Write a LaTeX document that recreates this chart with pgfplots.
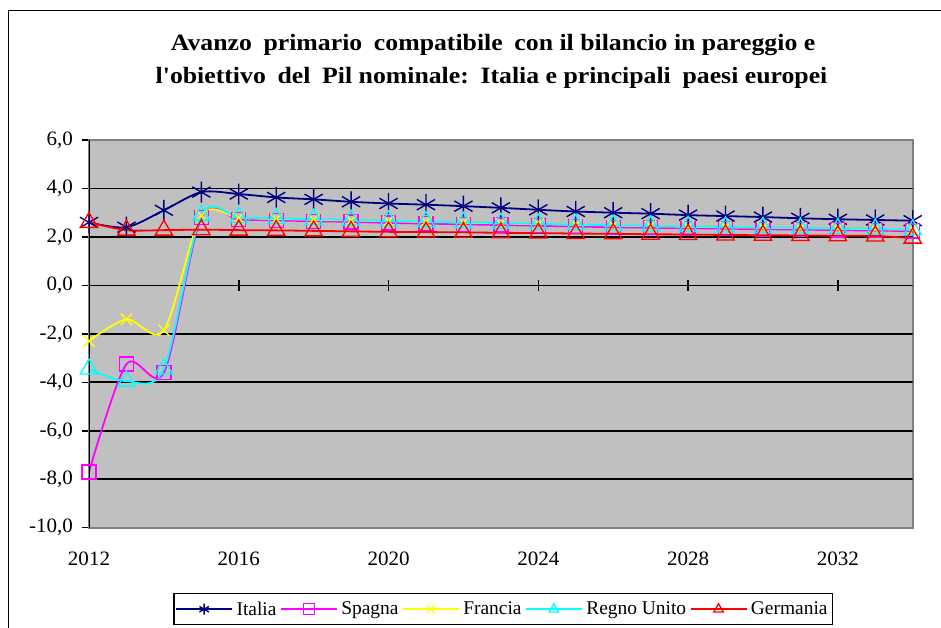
\documentclass[border=0pt]{standalone}
\usepackage{pgfplots}
\pgfplotsset{compat=1.18}
\usepackage{fontspec}
\setmainfont[Ligatures=TeXOff]{Liberation Serif}
\newfontfamily\tickfont[FakeStretch=1.03, Ligatures=TeXOff]{Liberation Serif}
\newfontfamily\titlefont[FakeStretch=1.1, Ligatures=TeXOff]{Liberation Serif}
\definecolor{cNavy}{RGB}{0,0,128}
\definecolor{cMag}{RGB}{255,0,255}
\definecolor{cYel}{RGB}{255,255,0}
\definecolor{cCya}{RGB}{0,255,255}
\definecolor{cRed}{RGB}{255,0,0}
\definecolor{cBg}{RGB}{192,192,192}
\definecolor{cBorder}{RGB}{128,128,128}
\begin{document}
\begin{tikzpicture}
\draw[line width=1.5bp] (8.7bp,-700bp) -- (8.7bp,-10.7bp) -- (1000bp,-10.7bp);
\node[font=\titlefont\bfseries\fontsize{23.5}{26}\selectfont, anchor=base, inner sep=0pt] at (493bp,-50.7bp) {Avanzo\enspace primario\enspace compatibile\enspace con il bilancio in pareggio e};
\node[font=\titlefont\bfseries\fontsize{23.5}{26}\selectfont, anchor=base, inner sep=0pt] at (491.5bp,-83.3bp) {l'obiettivo\enspace del\enspace Pil nominale:\enspace Italia e principali\enspace paesi europei};
\begin{axis}[
  at={(89bp,-527.7bp)}, anchor=south west,
  scale only axis, width=823.7bp, height=387.7bp,
  xmin=2012, xmax=2034, ymin=-10, ymax=6,
  axis background/.style={fill=cBg},
  axis line style={draw=cBorder, line width=1.8bp},
  xtick={2012,2016,...,2032},
  ytick={-10,-8,...,6},
  x tick style={draw=none},
  y tick style={draw=black, line width=1.5bp},
  tick align=outside,
  major tick length=7.5bp,
  ytick pos=left, xtick pos=bottom,
  tick label style={font=\tickfont\fontsize{20.5}{22}\selectfont},
  xticklabel style={yshift=-13bp, /pgf/number format/.cd, 1000 sep={}, assume math mode=true},
  yticklabel style={xshift=-5bp, /pgf/number format/.cd, fixed, fixed zerofill, precision=1, use comma, assume math mode=true},
  legend style={at={(0.102,-0.1684)}, anchor=north west, legend columns=5, draw=black, line width=1.5bp, fill=white,
     font=\fontsize{19.5}{21}\selectfont, inner xsep=1.5bp, inner ysep=6bp,
     nodes={inner xsep=3.5bp}, column sep=0pt},
  legend image code/.code={\draw[mark repeat=2,mark phase=2,mark size=5.5bp] plot coordinates {(0bp,0bp) (28bp,0bp) (56bp,0bp)};},
  every axis plot/.append style={smooth, tension=0.5, line width=1.8bp},
  clip=true,
]
% grid lines and zero axis
\pgfplotsinvokeforeach{-8,-6,-4,-2,0,2,4}{\draw[black, line width=1.7bp] (axis cs:2012,#1) -- (axis cs:2034,#1);}
\pgfplotsinvokeforeach{2016,2020,2024,2028,2032}{\draw[black, line width=1.5bp] (axis cs:#1,-0.23) -- (axis cs:#1,0.23);}

\addplot[color=cNavy, mark=asterisk, mark size=10.5bp, mark options={line width=1.4bp}] coordinates {
(2012,2.6) (2013,2.4) (2014,3.1) (2015,3.85) (2016,3.77) (2017,3.63) (2018,3.55) (2019,3.45)
(2020,3.38) (2021,3.33) (2022,3.27) (2023,3.2) (2024,3.12) (2025,3.05) (2026,3.0) (2027,2.96)
(2028,2.9) (2029,2.86) (2030,2.82) (2031,2.77) (2032,2.73) (2033,2.7) (2034,2.67)};
\addlegendentry{Italia}
\addplot[color=cMag, mark=square, mark size=7bp, mark options={line width=1.3bp}] coordinates {
(2012,-7.7) (2013,-3.25) (2014,-3.6) (2015,2.8) (2016,2.72) (2017,2.68) (2018,2.65) (2019,2.62)
(2020,2.58) (2021,2.55) (2022,2.52) (2023,2.49) (2024,2.46) (2025,2.43) (2026,2.4) (2027,2.38)
(2028,2.36) (2029,2.34) (2030,2.32) (2031,2.3) (2032,2.28) (2033,2.26) (2034,2.24)};
\addlegendentry{Spagna}
\addplot[color=cYel, mark=x, mark size=8bp, mark options={line width=1.3bp}] coordinates {
(2012,-2.3) (2013,-1.4) (2014,-1.85) (2015,2.88) (2016,2.78) (2017,2.74) (2018,2.71) (2019,2.68)
(2020,2.65) (2021,2.62) (2022,2.59) (2023,2.56) (2024,2.53) (2025,2.5) (2026,2.47) (2027,2.44)
(2028,2.42) (2029,2.4) (2030,2.38) (2031,2.36) (2032,2.34) (2033,2.32) (2034,2.3)};
\addlegendentry{Francia}
\addplot[color=cCya, mark=triangle, mark size=10bp, mark options={line width=1.3bp}] coordinates {
(2012,-3.45) (2013,-3.95) (2014,-3.45) (2015,2.9) (2016,2.8) (2017,2.76) (2018,2.73) (2019,2.7)
(2020,2.66) (2021,2.63) (2022,2.6) (2023,2.57) (2024,2.54) (2025,2.51) (2026,2.48) (2027,2.45)
(2028,2.43) (2029,2.41) (2030,2.39) (2031,2.37) (2032,2.35) (2033,2.33) (2034,2.3)};
\addlegendentry{Regno Unito}
\addplot[color=cRed, mark=triangle, mark size=10bp, mark options={line width=1.3bp}] coordinates {
(2012,2.6) (2013,2.28) (2014,2.28) (2015,2.3) (2016,2.28) (2017,2.27) (2018,2.25) (2019,2.23)
(2020,2.21) (2021,2.2) (2022,2.19) (2023,2.17) (2024,2.16) (2025,2.14) (2026,2.13) (2027,2.11)
(2028,2.1) (2029,2.08) (2030,2.07) (2031,2.06) (2032,2.05) (2033,2.04) (2034,1.95)};
\addlegendentry{Germania}
\draw[black, line width=2bp] (rel axis cs:0,0) -- (rel axis cs:0,1);
\end{axis}
\pgfresetboundingbox
\useasboundingbox (0bp,0bp) rectangle (941bp,-628bp);
\end{tikzpicture}
\end{document}
